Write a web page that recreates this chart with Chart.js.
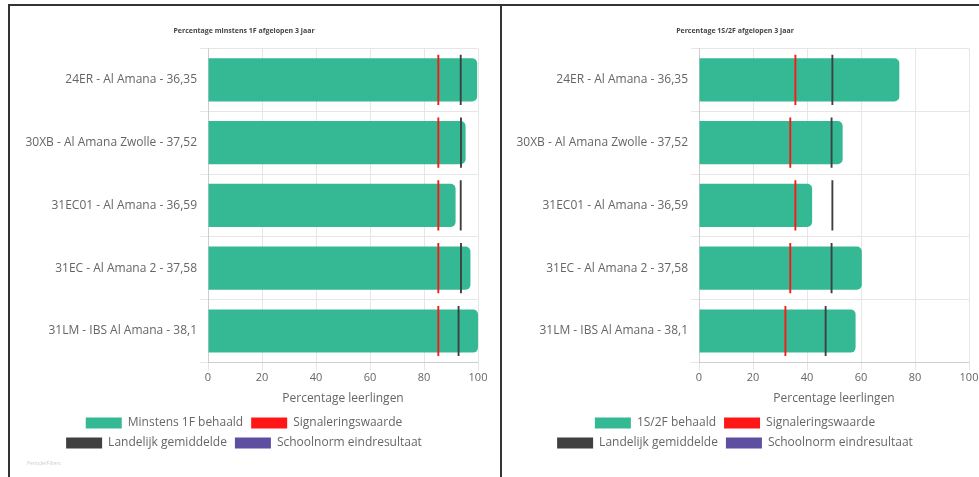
<!DOCTYPE html>
<html>
<head>
<meta charset="utf-8">
<script src="https://cdn.jsdelivr.net/npm/chart.js@4/dist/chart.umd.min.js"></script>
<style>
	html, body { margin: 0; padding: 0; background: #fff; overflow: hidden; }
	body { width: 979px; height: 477px; position: relative; }
	.kader { position: absolute; left: 8px; top: 4px; width: 1000px; height: 500px; border-top: 2px solid #333; border-left: 2px solid #333; }
	.scheiding { position: absolute; left: 500px; top: 4px; width: 2px; height: 480px; background: #333; }
	.paneel { position: absolute; top: 6px; width: 490px; height: 471px; }
	.bron { position: absolute; left: 27px; top: 460px; font: 5px "Open Sans", sans-serif; color: #ccc; }
</style>
</head>
<body>
<div class="kader"></div>
<div class="scheiding"></div>
<div class="paneel" style="left:10px"><canvas id="grafiek1F"></canvas></div>
<div class="paneel" style="left:501px"><canvas id="grafiek2F"></canvas></div>
<div class="bron">Periode/Filters</div>

<script>
// scholen (categorieen)
var scholen = [
	"24ER - Al Amana - 36,35",
	"30XB - Al Amana Zwolle - 37,52",
	"31EC01 - Al Amana - 36,59",
	"31EC - Al Amana 2 - 37,58",
	"31LM - IBS Al Amana - 38,1",
];

// grafiek 1: minstens 1F
var titel1F = "Percentage minstens 1F afgelopen 3 jaar";
var behaald1F = [99.7, 95.4, 91.7, 97.2, 100];
var signalering1F = [85.3, 85.3, 85.3, 85.3, 85.3];
var landelijk1F = [93.6, 93.7, 93.6, 93.7, 92.8];

// grafiek 2: 1S/2F
var titel2F = "Percentage 1S/2F afgelopen 3 jaar";
var behaald2F = [74.2, 53.2, 41.9, 60.3, 58];
var signalering2F = [35.7, 33.8, 35.7, 33.8, 32];
var landelijk2F = [49.4, 49.1, 49.4, 49.1, 46.9];

var schoolnorm = [null, null, null, null, null];

var asTicks = [0, 20, 40, 60, 80, 100];

var groen = "rgb(52, 185, 148)";
var rood = "rgb(255, 22, 22)";
var zwart = "rgb(64, 64, 64)";
var paars = "rgb(94, 79, 160)";

// maakt van een waarde een smal lijntje (zwevende bar)
function lijn(waarden) {
	return waarden.map((v) => (v == null ? null : [v - 0.35, v + 0.35]));
}

// legenda eerder laten afbreken (2 items per regel)
var legendaBreedte = {
	id: "legendaBreedte",
	beforeLayout(chart) {
		var lg = chart.legend;
		if (!lg || lg.smalFit) return;
		var fit = lg.fit;
		lg.fit = function () {
			var breed = this.maxWidth;
			this.maxWidth = Math.min(breed, 430);
			fit.call(this);
			this.maxWidth = breed;
		};
		lg.smalFit = true;
	},
};

function maakGrafiek(id, titel, labelBehaald, behaald, signalering, landelijk) {
	return new Chart(document.getElementById(id), {
		type: "bar",
		plugins: [legendaBreedte],
		data: {
			labels: scholen,
			datasets: [
				{
					label: labelBehaald,
					data: behaald,
					backgroundColor: groen,
					borderRadius: 5,
					barPercentage: 0.86,
					categoryPercentage: 0.8,
					grouped: false,
					order: 3,
				},
				{
					label: "Signaleringswaarde",
					data: lijn(signalering),
					backgroundColor: rood,
					barPercentage: 1,
					categoryPercentage: 0.8,
					grouped: false,
					order: 2,
				},
				{
					label: "Landelijk gemiddelde",
					data: lijn(landelijk),
					backgroundColor: zwart,
					barPercentage: 1,
					categoryPercentage: 0.8,
					grouped: false,
					order: 1,
				},
				{
					label: "Schoolnorm eindresultaat",
					data: lijn(schoolnorm),
					backgroundColor: paars,
					barPercentage: 1,
					categoryPercentage: 0.8,
					grouped: false,
					order: 0,
				},
			],
		},
		options: {
			indexAxis: "y",
			responsive: true,
			maintainAspectRatio: false,
			animation: false,
			layout: { padding: { top: 0, right: 22, bottom: 18, left: 0 } },
			plugins: {
				title: {
					display: true,
					text: titel,
					color: "#444",
					font: { family: "Open Sans", size: 7, weight: "bold" },
					padding: { top: 21, bottom: 13 },
				},
				legend: {
					position: "bottom",
					labels: {
						boxWidth: 36,
						boxHeight: 11,
						padding: 8,
						color: "#666",
						font: { family: "Open Sans", size: 12 },
						sort: (a, b) => a.datasetIndex - b.datasetIndex,
					},
				},
				tooltip: { enabled: false },
			},
			scales: {
				x: {
					min: 0,
					max: 100,
					afterBuildTicks: (s) => {
						s.ticks = asTicks.map((v) => ({ value: v }));
					},
					grid: { color: "#e6e6e6" },
					ticks: { color: "#666", padding: 1, font: { family: "Open Sans", size: 11 } },
					title: {
						display: true,
						text: "Percentage leerlingen",
						color: "#666",
						font: { family: "Open Sans", size: 12 },
						padding: { top: 6, bottom: 3 },
					},
				},
				y: {
					grid: { color: "#e6e6e6" },
					afterFit: (s) => {
						s.width = 198;
					},
					ticks: { color: "#666", font: { family: "Open Sans", size: 12 } },
				},
			},
		},
	});
}

maakGrafiek("grafiek1F", titel1F, "Minstens 1F behaald", behaald1F, signalering1F, landelijk1F);
maakGrafiek("grafiek2F", titel2F, "1S/2F behaald", behaald2F, signalering2F, landelijk2F);
</script>
</body>
</html>
